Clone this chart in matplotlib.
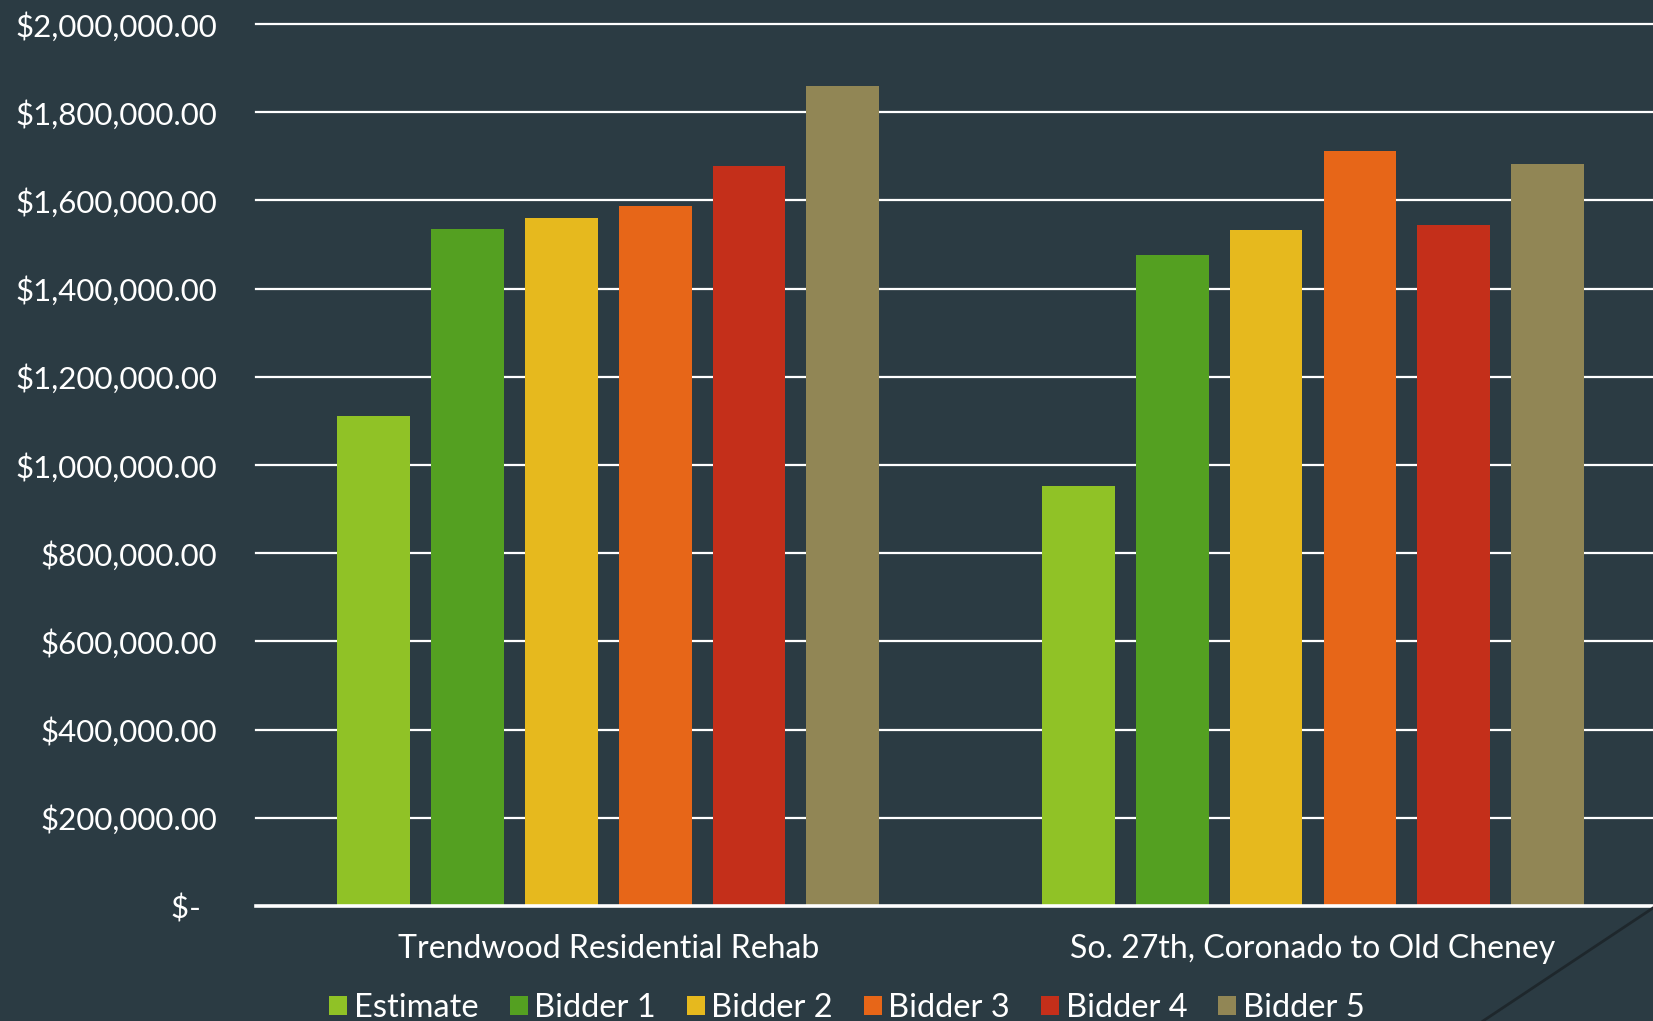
import matplotlib
matplotlib.use("Agg")
import matplotlib.pyplot as plt
from matplotlib.patches import Patch
from matplotlib.lines import Line2D
import numpy as np

plt.rcParams['font.family'] = ['Lato', 'DejaVu Sans']

# data
projects = ["Trendwood Residential Rehab", "So. 27th, Coronado to Old Cheney"]
series = ["Estimate", "Bidder 1", "Bidder 2", "Bidder 3", "Bidder 4", "Bidder 5"]
estimate = [1111000, 952000]
bidder1 = [1535000, 1477000]
bidder2 = [1559000, 1532000]
bidder3 = [1587000, 1711000]
bidder4 = [1678000, 1544000]
bidder5 = [1860000, 1683000]
values = [estimate, bidder1, bidder2, bidder3, bidder4, bidder5]
y_ticks = list(range(0, 2000001, 200000))

colors = ["#90C226", "#54A021", "#E6B91E", "#E76618", "#C42F1A", "#918655"]
bg = "#2B3B43"


def money(v, pos=None):
    if v == 0:
        return "$-  "
    return "${:,.2f}".format(v)


fig = plt.figure(figsize=(16.53, 10.21), dpi=100, facecolor=bg)
ax = fig.add_axes([256 / 1653, 115 / 1021, 1 - 256 / 1653, (906 - 24) / 1021])
ax.set_facecolor(bg)

x = np.arange(len(projects))
step = 0.1331
width = 0.1032
for i, (name, vals) in enumerate(zip(series, values)):
    ax.bar(x + (i - 2.5) * step, vals, width, color=colors[i], zorder=2, label=name)

ax.set_xlim(-0.5, 1.4825)
ax.set_ylim(0, 2000000)
ax.set_yticks(y_ticks)
ax.yaxis.set_major_formatter(plt.FuncFormatter(money))
ax.set_xticks(x)
ax.set_xticklabels(projects)

for t in y_ticks[1:]:
    ax.axhline(t, color="white", lw=1.6, zorder=1, clip_on=False)
ax.axhline(0, color="white", lw=2.6, zorder=3, clip_on=False)

for s in ax.spines.values():
    s.set_visible(False)
ax.tick_params(axis="y", length=0, pad=28, labelsize=22.5, labelcolor="white")
ax.tick_params(axis="x", length=0, pad=20, labelsize=23, labelcolor="white")

# decorative diagonal line in the corner
fig.add_artist(Line2D([1.0, 1483 / 1653], [1 - 908 / 1021, 0.0], transform=fig.transFigure,
                      color="#1E272C", lw=2))

handles = [Patch(facecolor=c, edgecolor="none") for c in colors]
fig.legend(handles, series, loc="center", bbox_to_anchor=(847 / 1653, 13 / 1021), ncol=6,
           frameon=False, fontsize=23.5, labelcolor="white", handlelength=0.55, handleheight=0.55,
           handletextpad=0.2, columnspacing=0.95, borderaxespad=0)

fig.savefig("out.png", dpi=100, facecolor=bg)
